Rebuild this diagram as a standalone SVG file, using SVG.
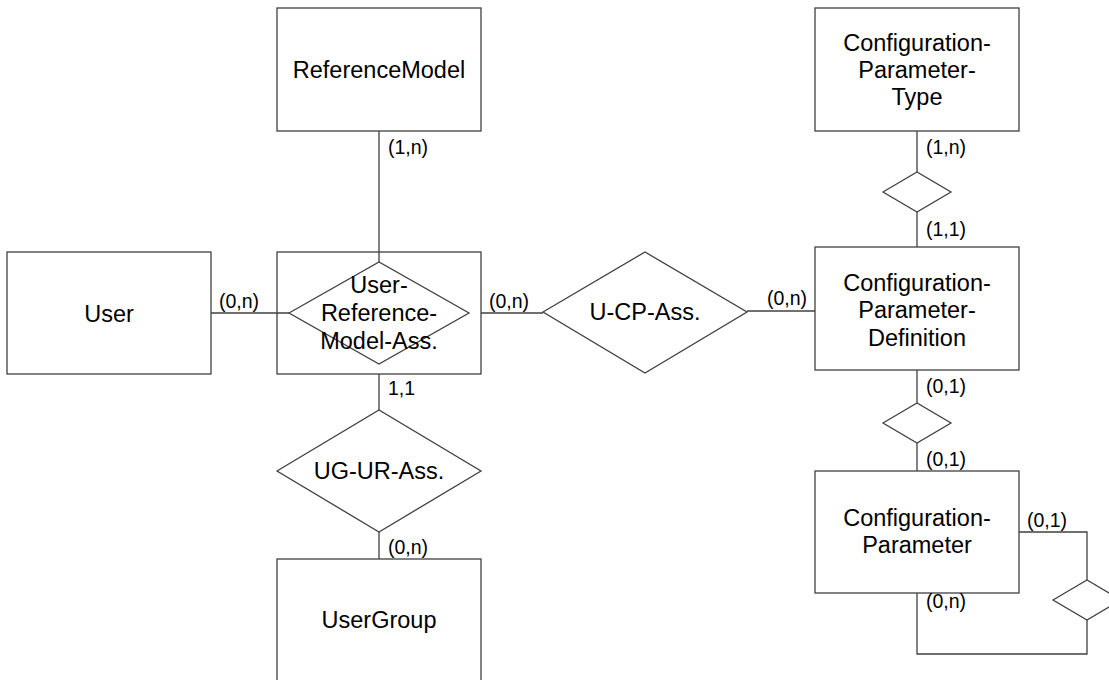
<svg xmlns="http://www.w3.org/2000/svg" width="1109" height="680" viewBox="0 0 1109 680">
<style>
.box{fill:#fff;stroke:#404040;stroke-width:1.3}
.dia{fill:#fff;stroke:#404040;stroke-width:1.3}
.con{fill:none;stroke:#404040;stroke-width:1.3}
.t{font-family:"Liberation Sans",Arial,sans-serif;font-size:23.5px;fill:#000;text-anchor:middle}
.l{font-family:"Liberation Sans",Arial,sans-serif;font-size:19.5px;fill:#000}
</style>
<rect width="1109" height="680" fill="#fff"/>
<g id="ReferenceModel"><rect class="box" x="277" y="8" width="204" height="123"/><text class="t" x="379" y="78">ReferenceModel</text></g>
<g id="User"><rect class="box" x="7" y="252" width="204" height="122"/><text class="t" x="109" y="322">User</text></g>
<g id="UserReferenceModelBox"><rect class="box" x="277" y="252" width="204" height="122"/></g>
<g id="UserGroup"><rect class="box" x="277" y="559" width="204" height="130"/><text class="t" x="379" y="628">UserGroup</text></g>
<g id="ConfigurationParameterType"><rect class="box" x="815" y="8" width="204" height="123"/><text class="t" x="917" y="51">Configuration-</text><text class="t" x="917" y="78">Parameter-</text><text class="t" x="917" y="105">Type</text></g>
<g id="ConfigurationParameterDefinition"><rect class="box" x="815" y="247" width="204" height="123"/><text class="t" x="917" y="291">Configuration-</text><text class="t" x="917" y="318">Parameter-</text><text class="t" x="917" y="346">Definition</text></g>
<g id="ConfigurationParameter"><rect class="box" x="815" y="471" width="204" height="122"/><text class="t" x="917" y="526">Configuration-</text><text class="t" x="917" y="553">Parameter</text></g>
<g id="connectors">
<path class="con" d="M379,131V262"/>
<path class="con" d="M211,313H289"/>
<path class="con" d="M481,313H543"/>
<path class="con" d="M747,311H815"/>
<path class="con" d="M379,374V410"/>
<path class="con" d="M379,532V559"/>
<path class="con" d="M917,131V172"/>
<path class="con" d="M917,212V247"/>
<path class="con" d="M917,370V403"/>
<path class="con" d="M917,443V471"/>
<path class="con" d="M1019,532H1087V580"/>
<path class="con" d="M1087,620V654H917V593"/>
</g>
<g id="UserReferenceModelAss"><polygon class="dia" points="289,313 379,262 469,313 379,364" fill-opacity="0"/><text class="t" x="379" y="293">User-</text><text class="t" x="379" y="321">Reference-</text><text class="t" x="379" y="349">Model-Ass.</text></g>
<g id="UCPAss"><polygon class="dia" points="543,312 645,252 747,312 645,373"/><text class="t" x="645" y="320">U-CP-Ass.</text></g>
<g id="UGURAss"><polygon class="dia" points="277,471 379,410 481,471 379,532"/><text class="t" x="379" y="479">UG-UR-Ass.</text></g>
<g id="CPTDefRel"><polygon class="dia" points="883,192 917,172 951,192 917,212"/></g>
<g id="CPDefParRel"><polygon class="dia" points="883,423 917,403 951,423 917,443"/></g>
<g id="CPSelfRel"><polygon class="dia" points="1053,600 1087,580 1121,600 1087,620"/></g>
<g id="labels">
<text class="l" x="388" y="154">(1,n)</text>
<text class="l" x="219" y="308">(0,n)</text>
<text class="l" x="489" y="308">(0,n)</text>
<text class="l" x="767" y="305">(0,n)</text>
<text class="l" x="388" y="395">1,1</text>
<text class="l" x="388" y="554">(0,n)</text>
<text class="l" x="926" y="154">(1,n)</text>
<text class="l" x="926" y="236">(1,1)</text>
<text class="l" x="926" y="393">(0,1)</text>
<text class="l" x="926" y="466">(0,1)</text>
<text class="l" x="1027" y="527">(0,1)</text>
<text class="l" x="926" y="608">(0,n)</text>
</g>
</svg>
